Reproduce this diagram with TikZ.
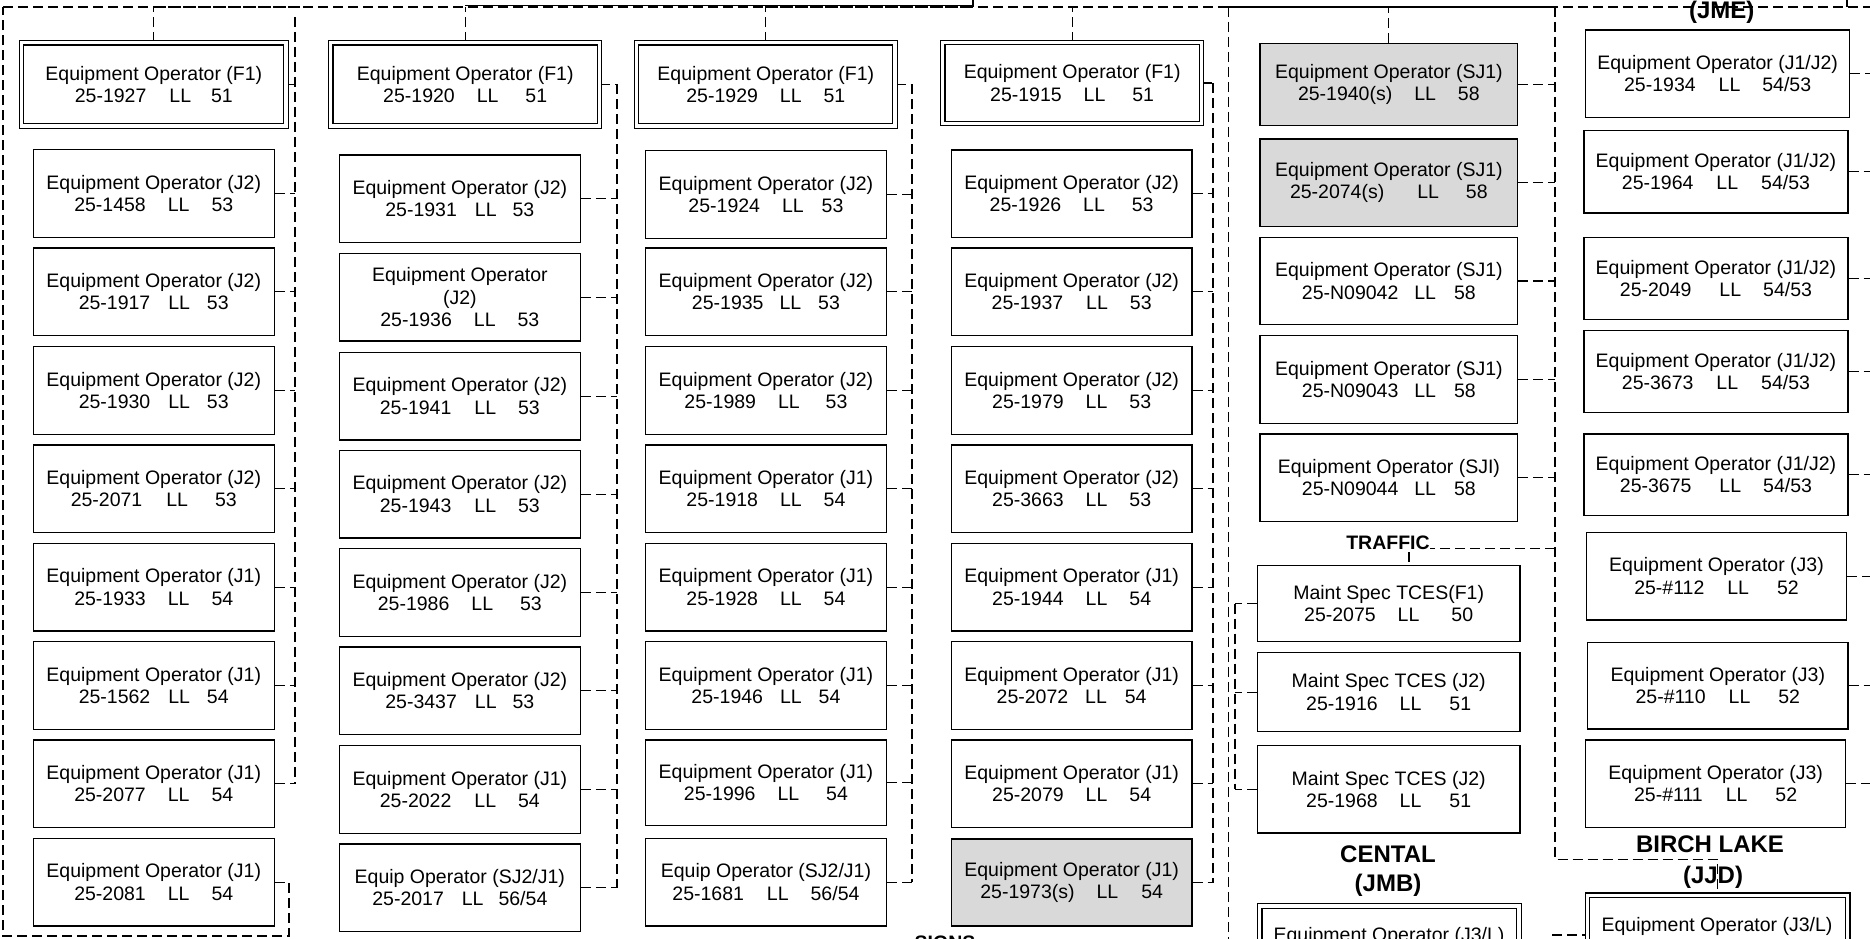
\documentclass[tikz,border=0pt]{standalone}
\usepackage{fontspec}
\setmainfont{Liberation Sans}
\usetikzlibrary{calc}
\definecolor{boxgrey}{RGB}{217,217,217}
\pgfdeclarelayer{bg}
\pgfdeclarelayer{lines}
\pgfsetlayers{bg,lines,main}
\newcommand\gp[1]{\hspace{#1pt}}
\newcommand\ebox[7][bx]{\node[#1,minimum width={#5pt-#3pt},minimum height={#6pt-#4pt}] (#2) at (#3,#4) {#7};}
\tikzset{
  bx/.style={draw, line width=1.3pt, fill=white, align=center, inner sep=0pt, anchor=north west,
    font=\fontsize{19.5}{22.4}\selectfont},
  gbx/.style={bx, fill=boxgrey},
  dbx/.style={bx, double, double distance=3.3pt, line width=1.2pt},
  conn/.style={line width=1.2pt, dash pattern=on 10pt off 5pt},
  trunk/.style={conn, line width=2pt},
  solidl/.style={line width=1.2pt},
  hdr/.style={font=\fontsize{24}{29}\selectfont\bfseries, inner sep=0pt, anchor=base},
  trf/.style={font=\fontsize{19.5}{22}\selectfont\bfseries, inner sep=0pt, anchor=base},
  txt/.style={font=\fontsize{19.5}{22.4}\selectfont, inner sep=0pt, anchor=base},
}
\begin{document}
\begin{tikzpicture}[x=1pt,y=-1pt]
\useasboundingbox (0,0) rectangle (1870,939);
\begin{pgfonlayer}{bg}
\fill[white] (0,0) rectangle (1870,939);
\end{pgfonlayer}
\clip (0,0) rectangle (1870,939);
% column 1
\ebox[dbx]{a0}{21}{42.2}{285.5}{125.5}{Equipment Operator (F1)\\25-1927\gp{23}LL\gp{20}51}
\ebox{a1}{32.7}{149}{273.5}{236.7}{Equipment Operator (J2)\\25-1458\gp{22}LL\gp{22}53}
\ebox{a2}{32.7}{247.3}{273.5}{335}{Equipment Operator (J2)\\25-1917\gp{18}LL\gp{17}53}
\ebox{a3}{32.7}{346}{273.5}{433.7}{Equipment Operator (J2)\\25-1930\gp{18}LL\gp{17}53}
\ebox{a4}{32.7}{444.3}{273.5}{532}{Equipment Operator (J2)\\25-2071\gp{24}LL\gp{27}53}
\ebox{a5}{32.7}{542.7}{273.5}{630.4}{Equipment Operator (J1)\\25-1933\gp{22}LL\gp{22}54}
\ebox{a6}{32.7}{641}{273.5}{728.7}{Equipment Operator (J1)\\25-1562\gp{18}LL\gp{17}54}
\ebox{a7}{32.7}{739.3}{273.5}{827}{Equipment Operator (J1)\\25-2077\gp{22}LL\gp{22}54}
\ebox{a8}{32.7}{837.7}{273.5}{925.4}{Equipment Operator (J1)\\25-2081\gp{22}LL\gp{22}54}
% column 2
\ebox[dbx]{b0}{330.2}{42.2}{599}{125.5}{Equipment Operator (F1)\\25-1920\gp{22}LL\gp{27}51}
\ebox{b1}{338.8}{154.3}{579.6}{241.8}{Equipment Operator (J2)\\25-1931\gp{18}LL\gp{16}53}
\ebox{b2}{338.8}{252.7}{579.6}{340.2}{Equipment Operator\\(J2)\\25-1936\gp{22}LL\gp{22}53}
\ebox{b3}{338.8}{351.7}{579.6}{439.2}{Equipment Operator (J2)\\25-1941\gp{23}LL\gp{22}53}
\ebox{b4}{338.8}{449.7}{579.6}{537.2}{Equipment Operator (J2)\\25-1943\gp{23}LL\gp{22}53}
\ebox{b5}{338.8}{548}{579.6}{635.5}{Equipment Operator (J2)\\25-1986\gp{22}LL\gp{27}53}
\ebox{b6}{338.8}{646.3}{579.6}{733.8}{Equipment Operator (J2)\\25-3437\gp{18}LL\gp{16}53}
\ebox{b7}{338.8}{745}{579.6}{832.5}{Equipment Operator (J1)\\25-2022\gp{23}LL\gp{22}54}
\ebox{b8}{338.8}{843.3}{579.6}{930.8}{Equip Operator (SJ2/J1)\\25-2017\gp{18}LL\gp{15}56/54}
% column 3
\ebox[dbx]{c0}{636}{42.2}{894.5}{125.5}{Equipment Operator (F1)\\25-1929\gp{22}LL\gp{22}51}
\ebox{c1}{644.9}{150}{885.7}{237.7}{Equipment Operator (J2)\\25-1924\gp{22}LL\gp{18}53}
\ebox{c2}{644.9}{247.3}{885.7}{335}{Equipment Operator (J2)\\25-1935\gp{16}LL\gp{17}53}
\ebox{c3}{644.9}{346}{885.7}{433.7}{Equipment Operator (J2)\\25-1989\gp{22}LL\gp{26}53}
\ebox{c4}{644.9}{444.3}{885.7}{532}{Equipment Operator (J1)\\25-1918\gp{22}LL\gp{22}54}
\ebox{c5}{644.9}{542.7}{885.7}{630.4}{Equipment Operator (J1)\\25-1928\gp{22}LL\gp{22}54}
\ebox{c6}{644.9}{641}{885.7}{728.7}{Equipment Operator (J1)\\25-1946\gp{17}LL\gp{17}54}
\ebox{c7}{644.9}{739.3}{885.7}{825}{Equipment Operator (J1)\\25-1996\gp{22}LL\gp{27}54}
\ebox{c8}{644.9}{837.7}{885.7}{925.4}{Equip Operator (SJ2/J1)\\25-1681\gp{23}LL\gp{22}56/54}
% column 4
\ebox[dbx]{d0}{942.2}{42}{1200.9}{123}{Equipment Operator (F1)\\25-1915\gp{22}LL\gp{27}51}
\ebox{d1}{950.6}{149.3}{1191.4}{237}{Equipment Operator (J2)\\25-1926\gp{22}LL\gp{27}53}
\ebox{d2}{950.6}{247.3}{1191.4}{335}{Equipment Operator (J2)\\25-1937\gp{23}LL\gp{22}53}
\ebox{d3}{950.6}{346}{1191.4}{433.7}{Equipment Operator (J2)\\25-1979\gp{22}LL\gp{22}53}
\ebox{d4}{950.6}{444.3}{1191.4}{532}{Equipment Operator (J2)\\25-3663\gp{22}LL\gp{22}53}
\ebox{d5}{950.6}{542.7}{1191.4}{630.4}{Equipment Operator (J1)\\25-1944\gp{22}LL\gp{22}54}
\ebox{d6}{950.6}{641}{1191.4}{728.7}{Equipment Operator (J1)\\25-2072\gp{17}LL\gp{18}54}
\ebox{d7}{950.6}{739.3}{1191.4}{827}{Equipment Operator (J1)\\25-2079\gp{22}LL\gp{22}54}
\ebox[gbx]{d8}{950.6}{838.3}{1191.4}{925.4}{Equipment Operator (J1)\\25-1973(s)\gp{22}LL\gp{23}54}
% SJ column
\ebox[gbx]{e1}{1259.4}{42.7}{1517}{125}{Equipment Operator (SJ1)\\25-1940(s)\gp{22}LL\gp{22}58}
\ebox[gbx]{e2}{1259.4}{138.3}{1517}{225.7}{Equipment Operator (SJ1)\\25-2074(s)\gp{33}LL\gp{27}58}
\ebox{e3}{1259.4}{236.7}{1517}{324}{Equipment Operator (SJ1)\\25-N09042\gp{16}LL\gp{18}58}
\ebox{e4}{1259.4}{335}{1517}{422.7}{Equipment Operator (SJ1)\\25-N09043\gp{16}LL\gp{18}58}
\ebox{e5}{1259.4}{433.3}{1517}{521}{Equipment Operator (SJI)\\25-N09044\gp{16}LL\gp{18}58}
% TCES
\ebox{t1}{1256.7}{565}{1519.3}{641}{Maint Spec TCES(F1)\\25-2075\gp{22}LL\gp{32}50}
\ebox{t2}{1256.7}{652}{1519.3}{731}{Maint Spec TCES (J2)\\25-1916\gp{22}LL\gp{28}51}
\ebox{t3}{1256.7}{745}{1519.3}{832.3}{Maint Spec TCES (J2)\\25-1968\gp{22}LL\gp{28}51}
% JME column
\ebox{f1}{1585}{29.3}{1849}{116.7}{Equipment Operator (J1/J2)\\25-1934\gp{23}LL\gp{22}54/53}
\ebox{f2}{1583.3}{130}{1847.3}{212.3}{Equipment Operator (J1/J2)\\25-1964\gp{23}LL\gp{23}54/53}
\ebox{f3}{1583.3}{236.7}{1847.3}{319}{Equipment Operator (J1/J2)\\25-2049\gp{28}LL\gp{22}54/53}
\ebox{f4}{1583.3}{330}{1847.3}{411.7}{Equipment Operator (J1/J2)\\25-3673\gp{23}LL\gp{23}54/53}
\ebox{f5}{1583.3}{433.3}{1847.3}{515}{Equipment Operator (J1/J2)\\25-3675\gp{28}LL\gp{22}54/53}
\ebox{f6}{1585.7}{531.7}{1846}{619.3}{Equipment Operator (J3)\\25-\#112\gp{23}LL\gp{28}52}
\ebox{f7}{1587}{641.7}{1847.3}{728.3}{Equipment Operator (J3)\\25-\#110\gp{23}LL\gp{28}52}
\ebox{f8}{1585}{739.3}{1845}{826.7}{Equipment Operator (J3)\\25-\#111\gp{23}LL\gp{28}52}
% bottom double boxes
\ebox[dbx]{g1}{1259.2}{905.3}{1518.4}{1000}{}
\ebox[dbx]{g2}{1586.8}{894.7}{1847.2}{1000}{}
\node[txt] (g1t) at (1389,941) {Equipment Operator (J3/L)};
\node[txt] (g2t) at (1717,931.7) {Equipment Operator (J3/L)};
% headers
\node[hdr] (jme) at (1721.7,18.3) {(JME)};
\node[trf, fill=white] (traffic) at (1388,549.3) {TRAFFIC};
\node[hdr] (cental) at (1388,862.7) {CENTAL};
\node[hdr] (jmb) at (1388,891.7) {(JMB)};
\node[hdr] (birch) at (1710,852.7) {BIRCH LAKE};
\node[hdr] (jjd) at (1713,883.3) {(JJD)};
\node[trf] (signs) at (945,949) {SIGNS};
% connectors
\begin{pgfonlayer}{lines}
\coordinate (top) at (0,7);
\coordinate (bot) at (0,936);
\draw[conn] (2.9,7) -- (1870,7);
\draw[trunk] (156,7) -- (300,7);
\draw[trunk] (765,7) -- (973,7);
\draw[trunk] (1228,7) -- (1555,7);
\draw[solidl] (465,5.5) -- (973,5.5);
\draw[solidl] (973,0) -- (973,7);
\draw[solidl] (1847,0) -- (1847,7);
\foreach \n in {a0,b0,c0,d0,e1} \draw[conn] (\n.north) -- (\n.north |- top);
% column 1
\coordinate (t1x) at (294.7,0);
\draw[trunk] (294.7,17) -- (t1x |- a7.east);
\foreach \n in {a0,a1,a2,a3,a4,a5,a6,a7} \draw[conn] (\n.east) -- (\n.east -| t1x);
\coordinate (l1x) at (289,0);
\coordinate (l0x) at (2.9,0);
\draw[conn] (a8.east) -- (a8.east -| l1x) -- (l1x |- bot) -- (l0x |- bot) -- (l0x |- top);
% column 2
\coordinate (t2x) at (617.1,0);
\draw[trunk] (b0.east -| t2x) -- (b8.east -| t2x);
\foreach \n in {b0,b1,b2,b3,b4,b5,b6,b7,b8} \draw[conn] (\n.east) -- (\n.east -| t2x);
% column 3
\coordinate (t3x) at (912.2,0);
\draw[trunk] (c0.east -| t3x) -- (c8.east -| t3x);
\foreach \n in {c0,c1,c2,c3,c4,c5,c6,c7,c8} \draw[conn] (\n.east) -- (\n.east -| t3x);
% column 4
\coordinate (t4x) at (1213,0);
\draw[trunk] (d0.east -| t4x) -- (d8.east -| t4x);
\foreach \n in {d0,d1,d2,d3,d4,d5,d6,d7,d8} \draw[conn] (\n.east) -- (\n.east -| t4x);
% boundary line
\draw[conn] (1228.3,7) -- (1228.3,940);
% SJ trunk and Birch Lake
\coordinate (sjx) at (1555,0);
\coordinate (bl) at (1555,859.3);
\draw[conn] (sjx |- top) -- (bl) -- (bl -| g2.north) -- (g2.north);
\foreach \n in {e1,e2,e3,e4,e5} \draw[conn] (\n.east) -- (\n.east -| sjx);
% traffic
\coordinate (trfc) at (1409,548.3);
\draw[conn] (trfc -| sjx) -- (trfc) -- (trfc |- t1.north);
\coordinate (tcx) at (1235,0);
\draw[conn] (t1.west -| tcx) -- (t3.west -| tcx);
\foreach \n in {t1,t2,t3} \draw[conn] (\n.west) -- (\n.west -| tcx);
% JME stubs
\coordinate (rx) at (1870,0);
\foreach \n in {f1,f2,f3,f4,f5,f6,f7,f8} \draw[conn] (\n.east) -- (\n.east -| rx);
% bottom stub
\coordinate (jl) at (1552,935);
\draw[conn] (jl) -- (jl -| g2.west);
\end{pgfonlayer}
\end{tikzpicture}
\end{document}
